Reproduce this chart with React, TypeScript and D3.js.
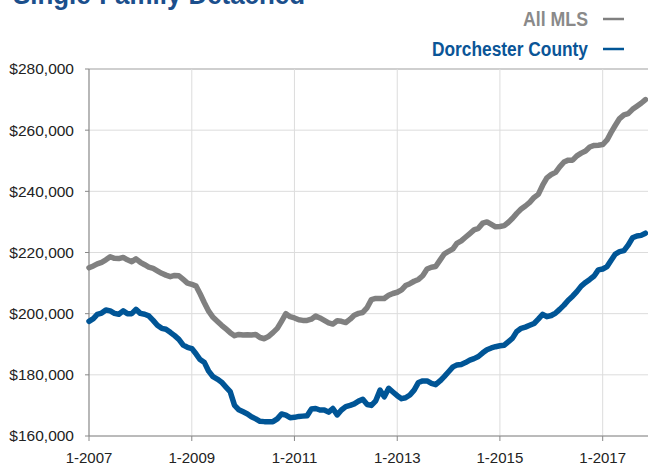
import * as d3 from "d3";

// median price, thousands of dollars, monthly from 1-2007
const allMls = [
  215.0, 215.6, 216.3, 216.8, 217.6, 218.6, 218.1, 218.0, 218.4, 217.6, 217.0, 217.9,
  216.8, 216.0, 215.2, 214.8, 214.0, 213.2, 212.6, 212.1, 212.5, 212.4, 211.2, 210.0,
  209.6, 209.0, 206.5, 203.5, 200.8, 198.8, 197.5, 196.2, 195.0, 193.8, 192.8, 193.2,
  193.0, 193.1, 193.0, 193.2, 192.2, 191.8, 192.6, 193.8, 195.2, 197.5, 200.0, 199.0,
  198.6, 198.0, 197.8, 197.8, 198.2, 199.2, 198.6, 197.8, 197.0, 196.6, 197.7, 197.5,
  197.1, 198.2, 199.5, 200.1, 200.4, 202.0, 204.6, 205.0, 205.0, 205.0, 206.0, 206.6,
  207.0, 207.8, 209.2, 209.8, 210.6, 211.2, 212.4, 214.6, 215.2, 215.4, 217.5, 219.5,
  220.4, 221.2, 223.0, 223.8, 225.0, 226.2, 227.4, 227.9, 229.6, 230.0, 229.2, 228.4,
  228.5, 228.8, 229.8, 231.2, 232.8, 234.2, 235.2, 236.4, 238.0, 239.0, 242.0, 244.4,
  245.5, 246.2, 248.0, 249.6, 250.2, 250.2, 251.6, 252.5, 253.2, 254.5, 255.0, 255.1,
  255.3, 256.8, 259.2, 261.6, 263.8, 265.0, 265.4, 266.8, 267.8, 268.8, 270.0,
];

const dorchester = [
  197.5, 198.4, 199.8, 200.2, 201.2, 200.9, 200.1, 199.8, 200.9, 200.0, 200.0, 201.4,
  200.1, 199.8, 199.3, 197.8, 196.2, 195.2, 194.9, 193.9, 192.8, 191.6, 189.7, 189.0,
  188.6, 186.8, 185.0, 184.0, 181.2, 179.4, 178.6, 177.6, 176.0, 174.5, 170.0, 168.6,
  167.9, 167.2, 166.3, 165.6, 164.8, 164.7, 164.7, 164.7, 165.6, 167.2, 166.8, 166.0,
  166.1, 166.4, 166.5, 166.6, 168.8, 169.0, 168.5, 168.5, 167.8, 169.0, 166.9, 168.5,
  169.6, 170.0, 170.5, 171.4, 172.0, 170.3, 170.0, 171.5, 175.0, 172.8, 175.6, 174.4,
  173.2, 172.2, 172.5, 173.4, 175.0, 177.5, 178.0, 178.0, 177.2, 176.8, 178.0, 179.4,
  181.0, 182.6, 183.2, 183.4, 184.0, 184.8, 185.3, 186.0, 187.2, 188.2, 188.8, 189.2,
  189.5, 189.7, 190.8, 192.0, 194.2, 195.2, 195.6, 196.2, 196.8, 198.2, 199.8, 199.0,
  199.4, 200.2, 201.4, 202.8, 204.4, 205.7, 207.2, 209.0, 210.2, 211.2, 212.3, 214.3,
  214.6, 215.4, 217.4, 219.5, 220.3, 220.6, 222.4, 224.8, 225.4, 225.6, 226.3,
];

const yTicks = [160000, 180000, 200000, 220000, 240000, 260000, 280000];
const xTickYears = [2007, 2009, 2011, 2013, 2015, 2017];

const seriesNames = ["All MLS", "Dorchester County"];
const seriesColors = ["#808080", "#005596"];

const W = 648;
const H = 466;
const left = 89;
const top = 69;
const bottom = 436;

const App = () => {
  const months = allMls.map((_, i) => new Date(2007, i, 1));

  const x = d3
    .scaleTime()
    .domain([new Date(2007, 0, 1), new Date(2017, 0, 1)])
    .range([left, 602.7]);
  const y = d3.scaleLinear().domain([160000, 280000]).range([bottom, top]);

  const line = d3
    .line<number>()
    .x((_, i) => x(months[i]))
    .y((d) => y(d * 1000))
    .curve(d3.curveLinear);

  const fmt = d3.format("$,");
  const narrow = "'Liberation Sans Narrow', 'Arial Narrow', 'Liberation Sans', sans-serif";
  const sans = "'Liberation Sans', Arial, Helvetica, sans-serif";

  return (
    <svg
      width={W}
      height={H}
      style={{ position: "absolute", left: 0, top: 0, background: "#fff" }}
    >
      {/* cut-off title */}
      <text
        x={13}
        y={4}
        fontFamily={narrow}
        fontWeight="bold"
        fontSize={28}
        fill="#1b4f8c"
        textLength={292}
        lengthAdjust="spacingAndGlyphs"
      >
        Single-Family Detached
      </text>

      {/* legend */}
      <text x={588} y={26} textAnchor="end" fontFamily={narrow} fontWeight="bold"
        fontSize={20} fill="#8a8a8a" textLength={65} lengthAdjust="spacingAndGlyphs">
        {seriesNames[0]}
      </text>
      <line x1={603} x2={624} y1={19} y2={19} stroke={seriesColors[0]} strokeWidth={2.5} />
      <text x={588} y={56} textAnchor="end" fontFamily={narrow} fontWeight="bold"
        fontSize={20} fill="#0a5597" textLength={156} lengthAdjust="spacingAndGlyphs">
        {seriesNames[1]}
      </text>
      <line x1={603} x2={624} y1={49} y2={49} stroke={seriesColors[1]} strokeWidth={2.5} />

      {/* horizontal gridlines */}
      {yTicks.map((t) => (
        <line key={"h" + t} x1={left} x2={W} y1={y(t)} y2={y(t)}
          stroke={t === 280000 ? "#a0a0a0" : "#dcdcdc"} strokeWidth={t === 280000 ? 1.2 : 1} />
      ))}
      {/* vertical gridlines */}
      {xTickYears.slice(1).map((yr) => (
        <line key={"v" + yr} x1={x(new Date(yr, 0, 1))} x2={x(new Date(yr, 0, 1))}
          y1={top} y2={bottom} stroke="#dcdcdc" strokeWidth={1} />
      ))}

      {/* axes */}
      <line x1={left} x2={left} y1={top} y2={bottom} stroke="#888" strokeWidth={1.2} />
      <line x1={left} x2={W} y1={bottom} y2={bottom} stroke="#888" strokeWidth={1.2} />
      {yTicks.map((t) => (
        <g key={"yt" + t}>
          <line x1={left - 4} x2={left} y1={y(t)} y2={y(t)} stroke="#888" />
          <text x={74} y={y(t)} dy="0.35em" textAnchor="end" fontFamily={sans}
            fontSize={15.5} fill="#222">
            {fmt(t)}
          </text>
        </g>
      ))}
      {xTickYears.map((yr) => (
        <g key={"xt" + yr}>
          <line x1={x(new Date(yr, 0, 1))} x2={x(new Date(yr, 0, 1))} y1={bottom}
            y2={bottom + 5} stroke="#888" />
          <text x={x(new Date(yr, 0, 1))} y={463} textAnchor="middle" fontFamily={sans}
            fontSize={15} fill="#222">
            {"1-" + yr}
          </text>
        </g>
      ))}

      {/* series */}
      {[allMls, dorchester].map((s, i) => (
        <path key={i} d={line(s) || ""} fill="none" stroke={seriesColors[i]}
          strokeWidth={5.5} strokeLinejoin="round" strokeLinecap="round" />
      ))}
    </svg>
  );
};

export default App;
